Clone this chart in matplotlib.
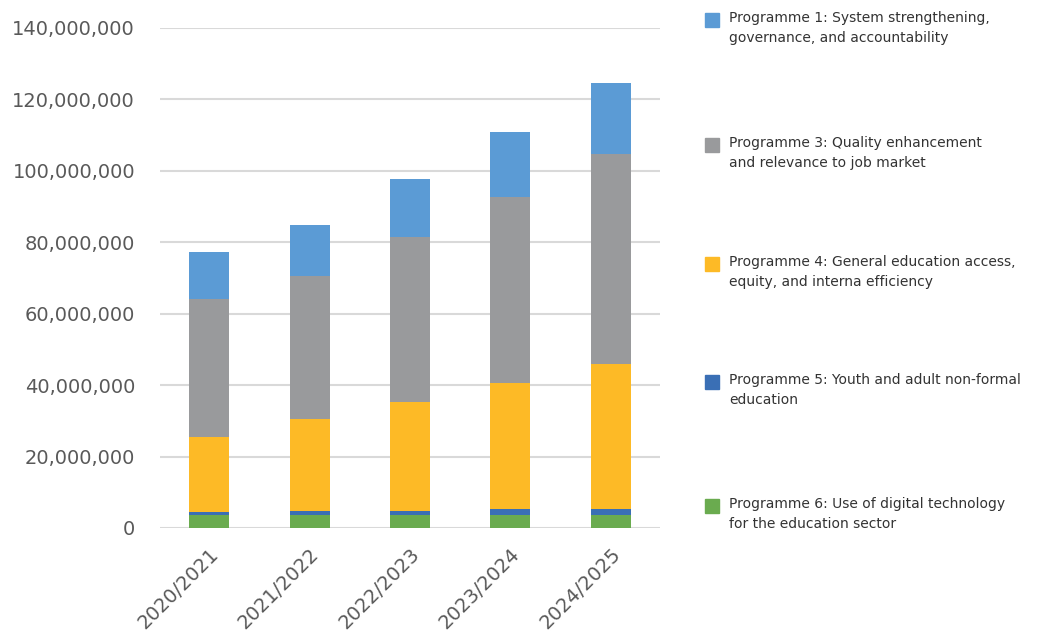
import matplotlib
matplotlib.use("Agg")
import matplotlib.pyplot as plt
import numpy as np
from matplotlib.ticker import FuncFormatter

years = ["2020/2021", "2021/2022", "2022/2023", "2023/2024", "2024/2025"]
p6 = [3.5e6, 3.5e6, 3.5e6, 3.5e6, 3.5e6]
p5 = [1.0e6, 1.3e6, 1.3e6, 1.7e6, 1.7e6]
p4 = [21.0e6, 25.7e6, 30.5e6, 35.4e6, 40.7e6]
p3 = [38.6e6, 40.1e6, 46.3e6, 52.2e6, 58.8e6]
p1 = [13.2e6, 14.2e6, 16.1e6, 18.0e6, 20.0e6]

labels = [
    ("Programme 1: System strengthening,", "governance, and accountability"),
    ("Programme 3: Quality enhancement", "and relevance to job market"),
    ("Programme 4: General education access,", "equity, and interna efficiency"),
    ("Programme 5: Youth and adult non-formal", "education"),
    ("Programme 6: Use of digital technology", "for the education sector"),
]
colors = {"p1": "#5B9BD5", "p3": "#999A9C", "p4": "#FDBA26", "p5": "#3A6FB5", "p6": "#6AAB4F"}

fig = plt.figure(figsize=(10.41, 6.43), dpi=100)
ax = fig.add_axes([0.1537, 0.1789, 0.4803, 0.7776])

x = np.arange(len(years))
w = 0.4
bottom = np.zeros(len(years))
for key, vals in [("p6", p6), ("p5", p5), ("p4", p4), ("p3", p3), ("p1", p1)]:
    ax.bar(x, vals, w, bottom=bottom, color=colors[key], zorder=3)
    bottom += np.array(vals)

ax.set_ylim(0, 140e6)
ax.set_xlim(-0.49, 4.49)
ax.set_yticks(np.arange(0, 140e6 + 1, 20e6))
ax.yaxis.set_major_formatter(FuncFormatter(lambda v, p: f"{int(v):,}"))
ax.grid(axis="y", color="#D9D9D9", linewidth=1.5, zorder=0)
for s in ax.spines.values():
    s.set_visible(False)
ax.tick_params(axis="both", length=0, labelsize=14, labelcolor="#595959")
ax.tick_params(axis="y", pad=18)
ax.set_xticks(x)
ax.set_xticklabels(years, rotation=45, ha="right", rotation_mode="anchor")
ax.tick_params(axis="x", pad=12)

# legend (manual, vertically spread)
leg_keys = ["p1", "p3", "p4", "p5", "p6"]
line1_y = [18, 143, 262, 380, 504]   # pixel y of first text line
for key, (l1, l2), py in zip(leg_keys, labels, line1_y):
    fig.patches.append(plt.Rectangle((705 / 1041, 1 - (py + 9) / 643), 14 / 1041, 14 / 643,
                                     transform=fig.transFigure, color=colors[key],
                                     figure=fig))
    fig.text(729 / 1041, 1 - py / 643, l1, fontsize=10, color="#333333",
             va="center", ha="left")
    fig.text(729 / 1041, 1 - (py + 20) / 643, l2, fontsize=10, color="#333333",
             va="center", ha="left")

fig.savefig("out.png", dpi=100)
